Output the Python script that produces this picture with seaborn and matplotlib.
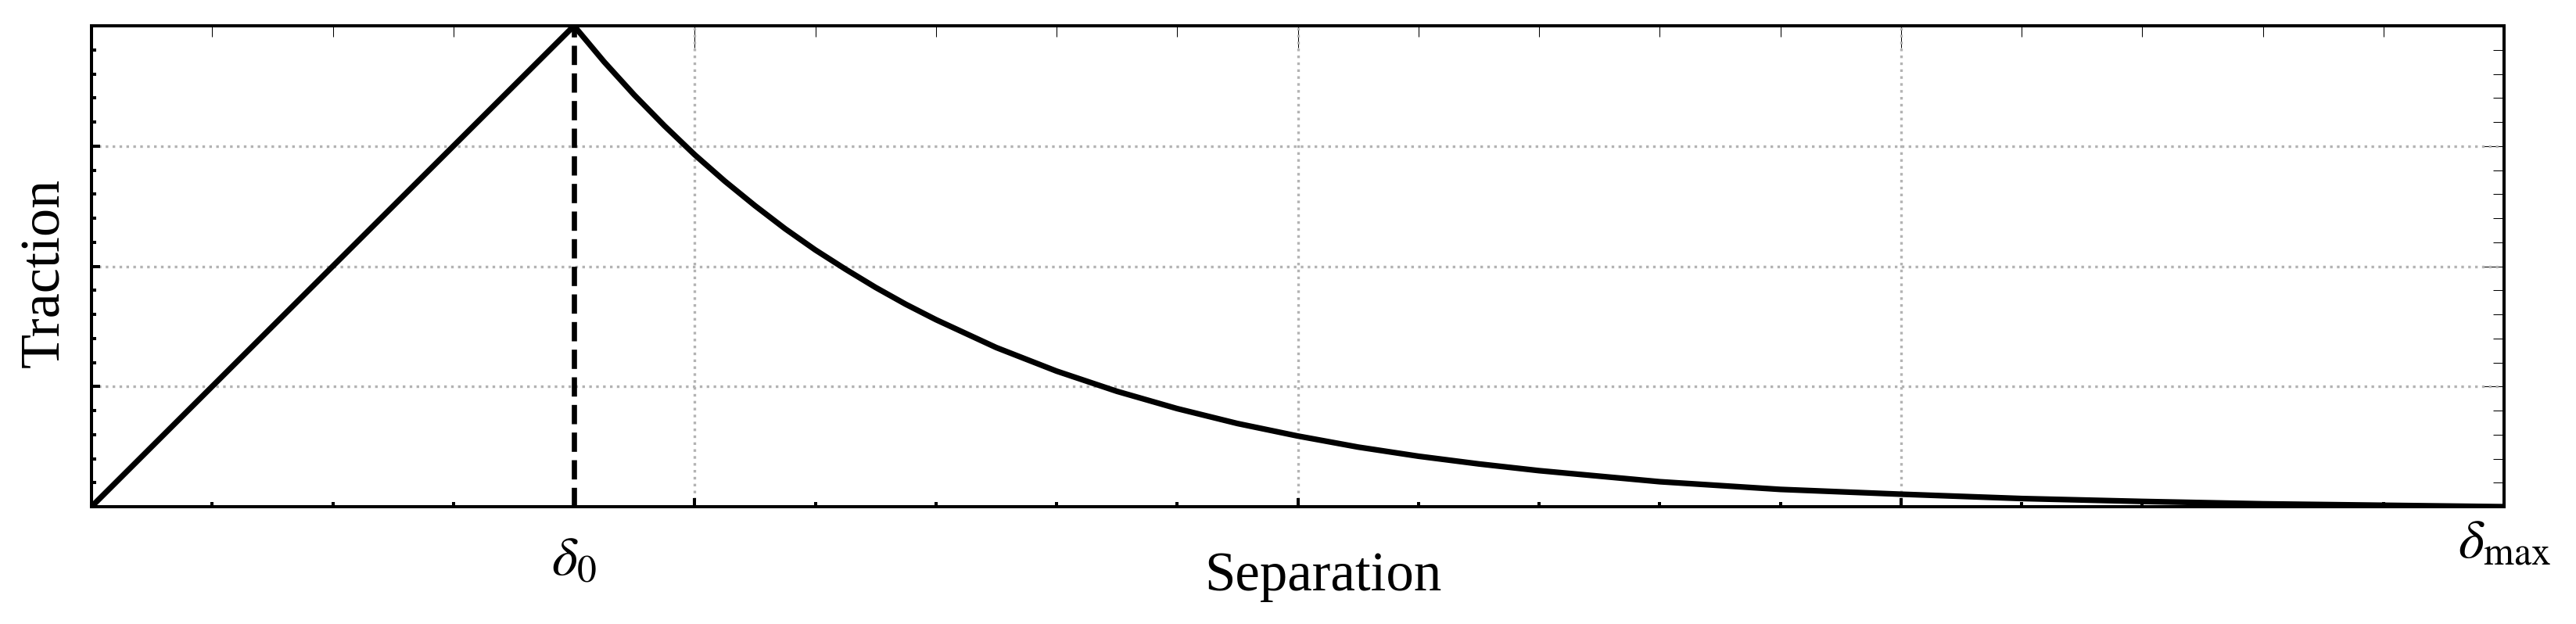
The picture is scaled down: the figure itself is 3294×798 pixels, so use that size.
import matplotlib
matplotlib.use("Agg")
import matplotlib.pyplot as plt
from matplotlib.ticker import MultipleLocator, FixedLocator
from matplotlib.transforms import blended_transform_factory
import seaborn as sns
import pandas as pd

# ---- data ----
separation = [0.0, 0.2, 0.2125, 0.225, 0.2375, 0.25, 0.2625, 0.275, 0.2875,
              0.3, 0.3125, 0.325, 0.3375, 0.35, 0.375, 0.4, 0.425, 0.45,
              0.475, 0.5, 0.525, 0.55, 0.575, 0.6, 0.65, 0.7, 0.75, 0.8,
              0.85, 0.9, 0.95, 1.0]
traction = [0.0, 1.0, 0.925, 0.856, 0.792, 0.732, 0.677, 0.626, 0.578,
            0.534, 0.494, 0.456, 0.421, 0.389, 0.331, 0.282, 0.240, 0.204,
            0.173, 0.147, 0.124, 0.105, 0.089, 0.075, 0.052, 0.036, 0.026,
            0.017, 0.011, 0.006, 0.003, 0.0]
delta0 = 0.2
delta_max = 1.0
peak = 1.0
grid_ticks = [0.25, 0.5, 0.75]
xtick_labels = [r"$\delta_0$", r"$\delta_{\mathrm{max}}$"]
xlabel = "Separation"
ylabel = "Traction"

df = pd.DataFrame({"sep": separation, "trac": traction})

sns.set_theme(style="white")
plt.rcParams["font.family"] = ["Liberation Serif", "DejaVu Serif"]
plt.rcParams["mathtext.fontset"] = "stix"
plt.rcParams["text.color"] = "black"
plt.rcParams["axes.labelcolor"] = "black"

DPI = 100
fig = plt.figure(figsize=(32.94, 7.98), dpi=DPI)
W, H = 3294, 798
left, right, top, bottom = 117, 3202, 33, 648
ax = fig.add_axes([left / W, 1 - bottom / H, (right - left) / W, (bottom - top) / H])

sns.lineplot(data=df, x="sep", y="trac", ax=ax, color="black", lw=5.2,
             estimator=None, sort=False, zorder=5)
ax.vlines(delta0, 0, peak, colors="black", linestyles="--", lw=4.8, zorder=4)

ax.set_xlim(0, delta_max)
ax.set_ylim(0, peak)

# grid on major ticks
ax.xaxis.set_major_locator(FixedLocator(grid_ticks))
ax.yaxis.set_major_locator(FixedLocator(grid_ticks))
ax.xaxis.set_minor_locator(MultipleLocator(0.05))
ax.yaxis.set_minor_locator(MultipleLocator(0.05))
ax.grid(True, which="major", color="#b3b3b3", linestyle=":", lw=2.4, zorder=1)
ax.set_axisbelow(True)

ax.tick_params(which="both", direction="in", bottom=True, left=True,
               top=False, right=False,
               labelbottom=False, labelleft=False, color="black")
ax.tick_params(which="major", length=8, width=2.9)
ax.tick_params(which="minor", length=4.3, width=2.9)
ax.set_xlabel("")
ax.set_ylabel("")

for s in ax.spines.values():
    s.set_linewidth(2.9)
    s.set_color("black")

# thin top / right ticks
secx = ax.secondary_xaxis("top")
secx.xaxis.set_major_locator(FixedLocator(grid_ticks))
secx.xaxis.set_minor_locator(MultipleLocator(0.05))
secx.tick_params(which="both", direction="in", top=True, labeltop=False,
                 width=0.75, color="black")
secx.tick_params(which="major", length=20)
secx.tick_params(which="minor", length=10)
secx.spines["top"].set_visible(False)

secy = ax.secondary_yaxis("right")
secy.yaxis.set_major_locator(FixedLocator(grid_ticks))
secy.yaxis.set_minor_locator(MultipleLocator(0.05))
secy.tick_params(which="both", direction="in", right=True, labelright=False,
                 width=0.75, color="black")
secy.tick_params(which="major", length=20)
secy.tick_params(which="minor", length=10)
secy.spines["right"].set_visible(False)

# tick-style labels for delta0 and delta_max
trans = blended_transform_factory(ax.transData, fig.transFigure)
ax.text(delta0, 1 - 685 / H, xtick_labels[0], transform=trans, ha="center",
        va="top", fontsize=51, color="black")
ax.text(delta_max, 1 - 663 / H, xtick_labels[1], transform=trans, ha="center",
        va="top", fontsize=51, color="black")

fig.text(1692 / W, 1 - 755 / H, xlabel, ha="center", va="baseline",
         fontsize=51, color="black")
fig.text(58 / W, 1 - 349 / H, ylabel, ha="center", va="center", rotation=90,
         fontsize=52, color="black")

fig.savefig("out.png", dpi=DPI, facecolor="white")
